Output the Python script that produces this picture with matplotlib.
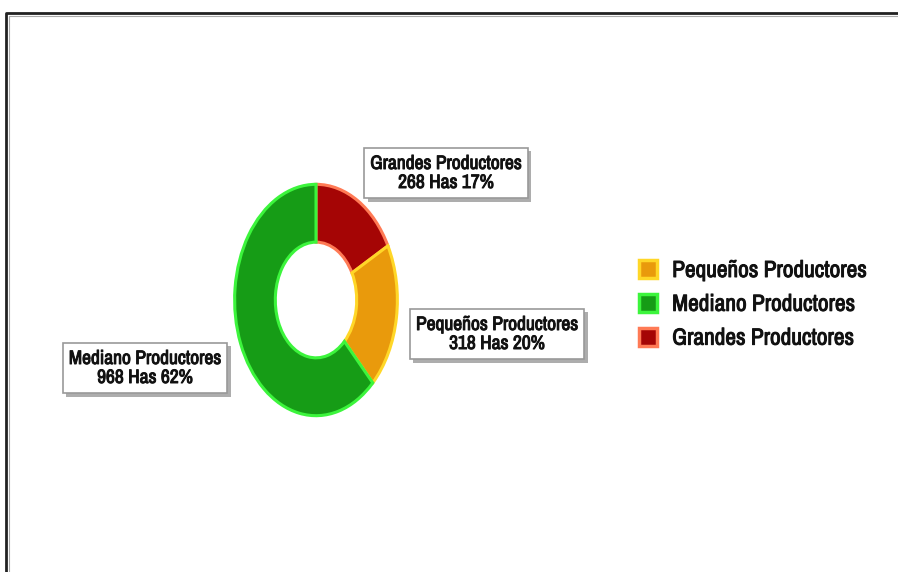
import matplotlib
matplotlib.use("Agg")
import matplotlib.pyplot as plt
from matplotlib.lines import Line2D
from matplotlib import patheffects as pe
from matplotlib import font_manager as fm

categories = ["Grandes Productores", "Pequeños Productores", "Mediano Productores"]
hectares = [268, 318, 968]
percent_labels = ["17%", "20%", "62%"]
legend_order = ["Pequeños Productores", "Mediano Productores", "Grandes Productores"]

face_colors = {"Grandes Productores": "#a50505",
               "Pequeños Productores": "#e99a0c",
               "Mediano Productores": "#169c16"}
edge_colors = {"Grandes Productores": "#ff7a55",
               "Pequeños Productores": "#ffd728",
               "Mediano Productores": "#3cf53c"}

available = {f.name for f in fm.fontManager.ttflist}
preferred = ["Liberation Sans Narrow", "Arial Narrow", "Archivo Narrow", "PT Sans Narrow",
             "Roboto Condensed", "Open Sans Condensed", "Sofia Sans Semi Condensed",
             "Saira SemiCondensed", "Liberation Sans"]
narrow = next((p for p in preferred if p in available), "DejaVu Sans")
FONT = [narrow, "DejaVu Sans"]
BOLDEN = [pe.withStroke(linewidth=0.7, foreground="#111111")]

W, H = 898, 572
fig = plt.figure(figsize=(W / 100, H / 100), dpi=100)
fig.patch.set_facecolor("white")

# donut axes (elliptical, as in reference)
cx, cy, rx, ry = 316, 300, 83, 118
ax = fig.add_axes([(cx - rx) / W, 1 - (cy + ry) / H, 2 * rx / W, 2 * ry / H])
wedges, _ = ax.pie(hectares, startangle=90, counterclock=False, radius=1.0,
                   colors=[face_colors[c] for c in categories],
                   wedgeprops=dict(width=0.5, linewidth=2.2))
for w, c in zip(wedges, categories):
    w.set_edgecolor(edge_colors[c])
ax.set_aspect("auto")
ax.set_xlim(-1.02, 1.02)
ax.set_ylim(-1.02, 1.02)
ax.axis("off")

# labels
label_pos = {"Grandes Productores": (446, 173),
             "Pequeños Productores": (497, 334),
             "Mediano Productores": (145, 368)}
for c, v, p in zip(categories, hectares, percent_labels):
    x, y = label_pos[c]
    t = fig.text(x / W, 1 - y / H, f"{c}\n{v} Has {p}", ha="center", va="center",
                 fontsize=14, fontweight="bold", family=FONT, color="#111111",
                 linespacing=1.0, path_effects=BOLDEN,
                 bbox=dict(boxstyle="square,pad=0.32", facecolor="white",
                           edgecolor="#999999", linewidth=1.2))
    t.get_bbox_patch().set_path_effects([
        pe.SimplePatchShadow(offset=(2.5, -2.5), shadow_rgbFace="#777777", alpha=0.6),
        pe.Normal()])

# legend
handles = [Line2D([], [], linestyle="none", marker="s", markersize=13,
                  markerfacecolor=face_colors[c], markeredgecolor=edge_colors[c],
                  markeredgewidth=2.5, label=c) for c in legend_order]
leg = fig.legend(handles=handles, loc="upper left",
                 bbox_to_anchor=(615 / W, 1 - 239 / H), frameon=False,
                 prop=dict(family=FONT, size=16.8, weight="bold"),
                 handlelength=1.0, handletextpad=0.55, labelspacing=0.55)
for txt in leg.get_texts():
    txt.set_color("#111111")
    txt.set_path_effects(BOLDEN)

# outer frame (top and left edges visible)
fig.add_artist(Line2D([6 / W, 6 / W, 1.0], [0.0, 1 - 13 / H, 1 - 13 / H],
                      transform=fig.transFigure, color="#222222", linewidth=2.0))
fig.add_artist(Line2D([8.5 / W, 8.5 / W, 1.0], [0.0, 1 - 15.5 / H, 1 - 15.5 / H],
                      transform=fig.transFigure, color="#aaaaaa", linewidth=0.8))

fig.savefig("out.png", dpi=100, facecolor="white")
